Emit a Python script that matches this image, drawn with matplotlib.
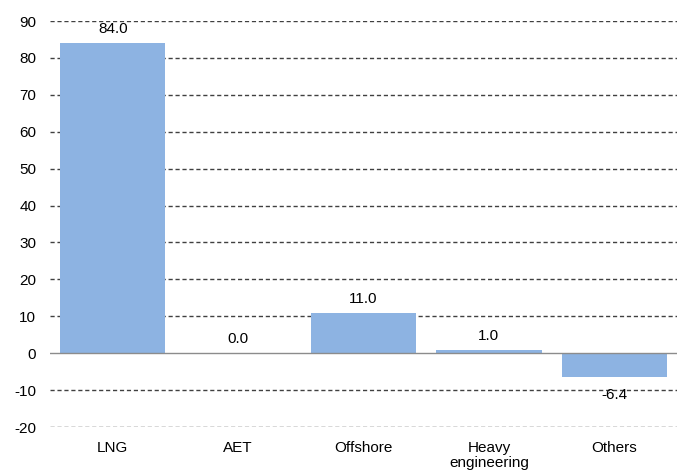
import matplotlib.pyplot as plt
import numpy as np

plt.rcParams['font.family'] = ['Liberation Sans', 'DejaVu Sans']
plt.rcParams['axes.unicode_minus'] = False

categories = ["LNG", "AET", "Offshore", "Heavy\nengineering", "Others"]
values = [84.0, 0.0, 11.0, 1.0, -6.4]

fig = plt.figure(figsize=(6.77, 4.72), dpi=100)
ax = fig.add_axes([0.074, 0.0953, 0.926, 0.8602])

x = np.arange(len(categories))
bars = ax.bar(x, values, width=0.84, color='#8db3e2', zorder=3)

# value labels above positive bars, below negative ones
for xi, v in zip(x, values):
    if v >= 0:
        ax.annotate(f"{v:.1f}", (xi, v), xytext=(0, 5), textcoords='offset points',
                    ha='center', va='bottom', fontsize=11, zorder=5)
    else:
        ax.annotate(f"{v:.1f}", (xi, v), xytext=(0, -8), textcoords='offset points',
                    ha='center', va='top', fontsize=11, zorder=5)

ax.set_xlim(-0.5, len(categories) - 0.5)
ax.set_ylim(-20, 90)
ax.set_yticks(np.arange(-20, 91, 10))
ax.set_xticks(x)
ax.set_xticklabels(categories, fontsize=11, linespacing=1.1)
ax.tick_params(axis='y', labelsize=11, length=0, pad=10)
ax.tick_params(axis='x', length=0, pad=10)

for s in ax.spines.values():
    s.set_visible(False)

for yv in np.arange(-20, 91, 10):
    if yv == 0:
        ax.axhline(0, color='#8c8c8c', linewidth=1.0, zorder=4)
    else:
        ax.axhline(yv, color='#404040', linewidth=1.0, linestyle=(0, (3, 2)), zorder=1)

fig.savefig("out.png", dpi=100)
